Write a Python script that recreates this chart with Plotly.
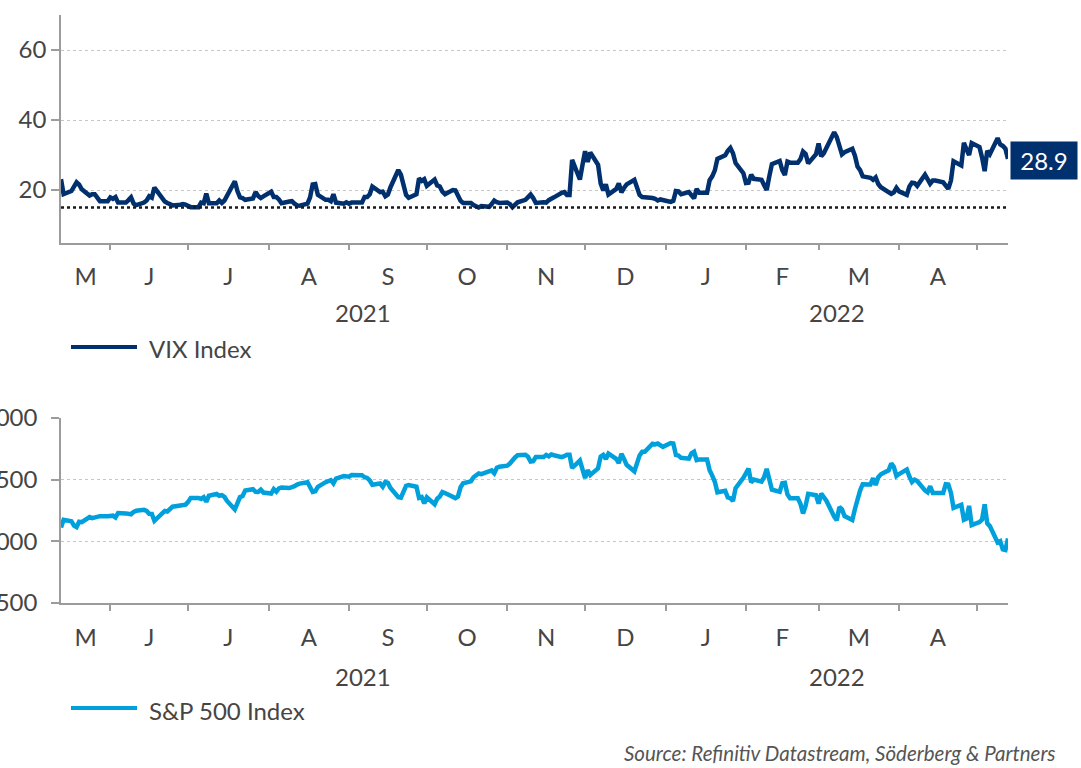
import pandas as pd
import plotly.graph_objects as go

# ---------------- data ----------------
start_date = "2021-05-13"
end_date = "2022-05-13"

vix = [
    23.1, 18.8,
    19.7, 21.3, 22.2, 21.5, 20.2,
    18.4, 18.8, 18.8, 17.8, 16.8,
    16.8, 17.9, 17.5, 18.0, 16.4,
    16.4, 17.1, 17.9, 16.1, 15.7,
    16.4, 17.0, 18.2, 17.8, 20.7,
    17.9, 16.7, 16.3, 16.0, 15.6,
    15.8, 16.0, 15.8, 15.5, 15.1,
    15.1, 16.4, 16.2, 19.0, 16.2,
    16.2, 17.0, 16.3, 17.0, 18.5,
    22.5, 19.7, 17.9, 17.7, 17.2,
    17.6, 19.4, 18.3, 17.7, 18.2,
    19.5, 18.0, 18.0, 17.3, 16.2,
    16.7, 16.8, 16.1, 15.6, 15.5,
    16.1, 17.9, 21.6, 21.7, 18.6,
    17.2, 17.2, 16.8, 18.8, 16.4,
    16.1, 16.5, 16.1, 16.4, 16.4,
    16.4, 18.0, 18.0, 18.8, 21.0,
    19.4, 19.5, 18.2, 18.7, 20.8,
    25.7, 24.4, 20.9, 18.6, 17.8,
    18.8, 23.3, 22.6, 23.1, 21.2,
    23.0, 21.3, 21.0, 19.5, 18.8,
    20.0, 19.9, 18.6, 16.9, 16.3,
    16.3, 15.7, 15.5, 15.0, 15.4,
    15.2, 16.0, 17.0, 16.5, 16.3,
    16.4, 16.0, 15.1, 16.0, 16.5,
    17.2, 18.0, 18.7, 17.7, 16.3,
    16.5, 16.4, 17.1, 17.6, 17.9,
    19.2, 19.4, 18.6, 18.6, 28.6,
    23.0, 27.2, 31.1, 28.0, 30.7,
    27.2, 21.9, 19.9, 21.6, 18.7,
    20.3, 21.9, 19.3, 20.6, 21.6,
    22.9, 21.0, 18.6, 18.0, 18.0,
    17.7, 17.5, 17.0, 17.3, 17.2,
    16.6, 16.9, 19.7, 19.6, 18.8,
    19.4, 18.4, 17.6, 20.3, 19.2,
    19.2, 22.8, 23.9, 25.6, 28.9,
    29.9, 31.2, 32.0, 30.5, 27.7,
    24.8, 22.0, 22.1, 24.4, 23.2,
    22.9, 21.4, 20.0, 23.9, 27.4,
    28.3, 25.7, 24.3, 28.1, 27.8,
    27.8, 28.8, 31.0, 30.3, 27.6,
    30.2, 33.3, 29.6, 30.5, 32.0,
    36.5, 35.1, 32.5, 30.2, 30.8,
    31.8, 29.8, 26.7, 25.7, 23.9,
    23.5, 22.9, 23.6, 21.7, 20.8,
    19.6, 18.9, 19.3, 20.6, 19.6,
    18.6, 21.0, 22.1, 22.0, 21.2,
    24.4, 22.9, 21.8, 22.7, 22.7,
    22.2, 21.4, 20.3, 22.7, 28.2,
    27.0, 33.5, 31.6, 30.0, 33.4,
    32.3, 29.3, 25.4, 31.2, 30.2,
    34.8, 33.0, 32.6, 31.8, 28.9,
]

spx = [
    4112.5, 4173.9,
    4163.3, 4127.8, 4115.7, 4159.1, 4155.9,
    4197.1, 4188.4, 4196.0, 4200.9, 4204.1,
    4204.1, 4202.0, 4208.1, 4192.9, 4229.9,
    4226.5, 4227.3, 4219.6, 4239.2, 4247.4,
    4255.2, 4246.6, 4223.7, 4221.9, 4166.5,
    4224.8, 4246.4, 4241.8, 4266.5, 4280.7,
    4290.6, 4291.8, 4297.5, 4319.9, 4352.3,
    4352.3, 4343.5, 4358.1, 4320.8, 4369.6,
    4384.6, 4369.2, 4374.3, 4360.0, 4327.2,
    4258.5, 4323.1, 4358.7, 4367.5, 4411.8,
    4422.3, 4401.5, 4400.6, 4419.2, 4395.3,
    4387.2, 4423.2, 4402.7, 4429.1, 4436.5,
    4432.4, 4436.8, 4447.7, 4460.8, 4468.0,
    4479.7, 4448.1, 4400.3, 4406.0, 4441.7,
    4479.5, 4486.2, 4496.2, 4470.0, 4509.4,
    4528.8, 4522.7, 4524.1, 4537.0, 4535.4,
    4535.4, 4520.0, 4514.1, 4493.3, 4458.6,
    4468.7, 4443.1, 4480.7, 4473.8, 4433.0,
    4357.7, 4354.2, 4395.6, 4449.0, 4455.5,
    4443.1, 4352.6, 4359.5, 4307.5, 4357.0,
    4300.5, 4345.7, 4363.6, 4399.8, 4391.3,
    4361.2, 4350.7, 4363.8, 4438.3, 4471.4,
    4486.5, 4519.6, 4536.2, 4549.8, 4544.9,
    4566.5, 4574.8, 4551.7, 4596.4, 4605.4,
    4613.7, 4630.7, 4660.6, 4680.1, 4697.5,
    4701.7, 4685.3, 4646.7, 4649.3, 4682.9,
    4682.8, 4700.9, 4688.7, 4704.5, 4698.0,
    4682.9, 4690.7, 4701.5, 4701.5, 4594.6,
    4655.3, 4567.0, 4513.0, 4577.1, 4538.4,
    4591.7, 4686.8, 4701.2, 4667.5, 4712.0,
    4669.0, 4634.1, 4709.9, 4668.7, 4620.6,
    4568.0, 4649.2, 4696.6, 4725.8, 4725.8,
    4791.2, 4786.4, 4793.1, 4778.7, 4766.2,
    4796.6, 4793.5, 4700.6, 4696.1, 4677.0,
    4670.3, 4713.1, 4726.4, 4659.0, 4662.9,
    4662.9, 4577.1, 4532.8, 4482.7, 4397.9,
    4410.1, 4356.5, 4349.9, 4326.5, 4431.9,
    4515.6, 4546.5, 4589.4, 4477.4, 4500.5,
    4483.9, 4521.5, 4587.2, 4504.1, 4418.6,
    4401.7, 4471.1, 4475.0, 4380.3, 4348.9,
    4348.9, 4304.8, 4225.5, 4288.7, 4384.7,
    4373.9, 4306.3, 4386.5, 4363.5, 4328.9,
    4201.1, 4170.7, 4277.9, 4259.5, 4204.3,
    4173.1, 4262.5, 4357.9, 4411.7, 4463.1,
    4461.2, 4511.6, 4456.2, 4520.2, 4543.1,
    4575.5, 4631.6, 4602.5, 4530.4, 4545.9,
    4582.6, 4525.1, 4481.2, 4500.2, 4488.3,
    4412.5, 4397.5, 4446.6, 4392.6, 4392.6,
    4391.7, 4462.2, 4459.5, 4393.7, 4271.8,
    4296.1, 4175.2, 4184.0, 4287.5, 4131.9,
    4155.4, 4175.5, 4300.2, 4146.9, 4123.3,
    3991.2, 4001.1, 3935.2, 3930.1, 4023.9,
]

vix_ref_level = 15.0
month_labels = ["M", "J", "J", "A", "S", "O", "N", "D", "J", "F", "M", "A"]
year_labels = ["2021", "2022"]
vix_ticks = [20, 40, 60]
spx_ticks = [3500, 4000, 4500, 5000]
vix_range = [5, 70]
spx_range = [3500, 5000]
vix_name = "VIX Index"
spx_name = "S&P 500 Index"
source_text = "Source: Refinitiv Datastream, Söderberg & Partners"

# ---------------- derived ----------------
dates = pd.bdate_range(start_date, periods=len(vix))
t0, t1 = pd.Timestamp(start_date), pd.Timestamp(end_date)
month_starts = list(pd.date_range("2021-06-01", "2022-05-01", freq="MS"))
bounds = [t0] + month_starts + [t1]
label_pos = [bounds[i] + (bounds[i + 1] - bounds[i]) / 2 for i in range(len(month_labels))]
y_split = pd.Timestamp("2022-01-01")
year_pos = [t0 + (y_split - t0) / 2, y_split + (t1 - y_split) / 2]

W, H = 1081, 768
def px(p):
    return p / W
def py(p):
    return 1 - p / H

NAVY = "#00306e"
BLUE = "#00a0dc"
TXT = "#454545"
AX = "#9c9c9c"
GRID = "#c6c6c6"
FONT = "Lato"

fig = go.Figure()
fig.add_trace(go.Scatter(x=dates, y=vix, mode="lines", line=dict(color=NAVY, width=4.5),
                         xaxis="x", yaxis="y", showlegend=False))
fig.add_trace(go.Scatter(x=dates, y=spx, mode="lines", line=dict(color=BLUE, width=4.5),
                         xaxis="x2", yaxis="y2", showlegend=False))

def xaxis_cfg(anchor):
    return dict(
        type="date", domain=[px(61), px(1008)], range=[t0, t1], anchor=anchor,
        automargin=False,
        showline=True, linecolor=AX, linewidth=1.5, showgrid=False, zeroline=False,
        tickmode="array", tickvals=label_pos, ticktext=month_labels, ticks="",
        tickfont=dict(family=FONT, size=24, color=TXT), ticklabelstandoff=12,
        minor=dict(tickmode="array", tickvals=month_starts, ticks="outside", ticklen=6,
                   tickwidth=1.5, tickcolor=AX, showgrid=False),
    )

def yaxis_cfg(domain, rng, ticks, anchor, standoff):
    return dict(
        domain=domain, range=rng, anchor=anchor, tickmode="array", tickvals=ticks,
        automargin=False,
        showline=True, linecolor=AX, linewidth=1.5, ticks="outside", ticklen=8,
        tickwidth=1.5, tickcolor=AX, showgrid=True, gridcolor=GRID, griddash="dot",
        gridwidth=1, zeroline=False, tickfont=dict(family=FONT, size=24, color=TXT),
        ticklabelstandoff=standoff,
    )

fig.update_layout(
    width=W, height=H, margin=dict(l=0, r=0, t=0, b=0, autoexpand=False),
    paper_bgcolor="white", plot_bgcolor="white",
    xaxis=xaxis_cfg("y"),
    yaxis=yaxis_cfg([py(242.5), py(15)], vix_range, vix_ticks, "x", 0),
    xaxis2=xaxis_cfg("y2"),
    yaxis2=yaxis_cfg([py(603), py(418)], spx_range, spx_ticks, "x2", 9),
    font=dict(family=FONT, color=TXT),
)

# reference level dotted line on VIX panel
fig.add_shape(type="line", xref="x domain", yref="y", x0=0, x1=1,
              y0=vix_ref_level, y1=vix_ref_level,
              line=dict(color="#1a1a1a", width=2.5, dash="dot"))

# year labels
for ypix, xa in [(313, "x"), (676, "x2")]:
    for pos, lab in zip(year_pos, year_labels):
        fig.add_annotation(x=pos, xref=xa, y=py(ypix), yref="paper", text=lab,
                           showarrow=False, xanchor="center", yanchor="middle",
                           font=dict(family=FONT, size=24, color=TXT))

# legends
for ypix, color, name in [(347, NAVY, vix_name), (708, BLUE, spx_name)]:
    fig.add_shape(type="line", xref="paper", yref="paper", x0=px(71), x1=px(137),
                  y0=py(ypix), y1=py(ypix), line=dict(color=color, width=4))
    fig.add_annotation(x=px(147), y=py(ypix + 2), xref="paper", yref="paper", text=name,
                       showarrow=False, xanchor="left", yanchor="middle",
                       font=dict(family=FONT, size=24, color=TXT))

# last value label
fig.add_annotation(x=dates[-1], y=vix[-1], xref="x", yref="y", text=f"{vix[-1]:.1f}",
                   showarrow=False, xanchor="left", yanchor="middle", xshift=2, yshift=-2,
                   bgcolor=NAVY, width=62, height=33, borderpad=2, align="center",
                   font=dict(family=FONT, size=24, color="white"))

# source
fig.add_annotation(x=px(1058), y=py(753), xref="paper", yref="paper", text=source_text,
                   showarrow=False, xanchor="right", yanchor="middle",
                   font=dict(family=FONT, size=20.5, color="#555555", style="italic"))

fig.write_html("out.html", config={"displayModeBar": False},
               post_script="document.body.style.margin='0';document.body.style.overflow='hidden';")
